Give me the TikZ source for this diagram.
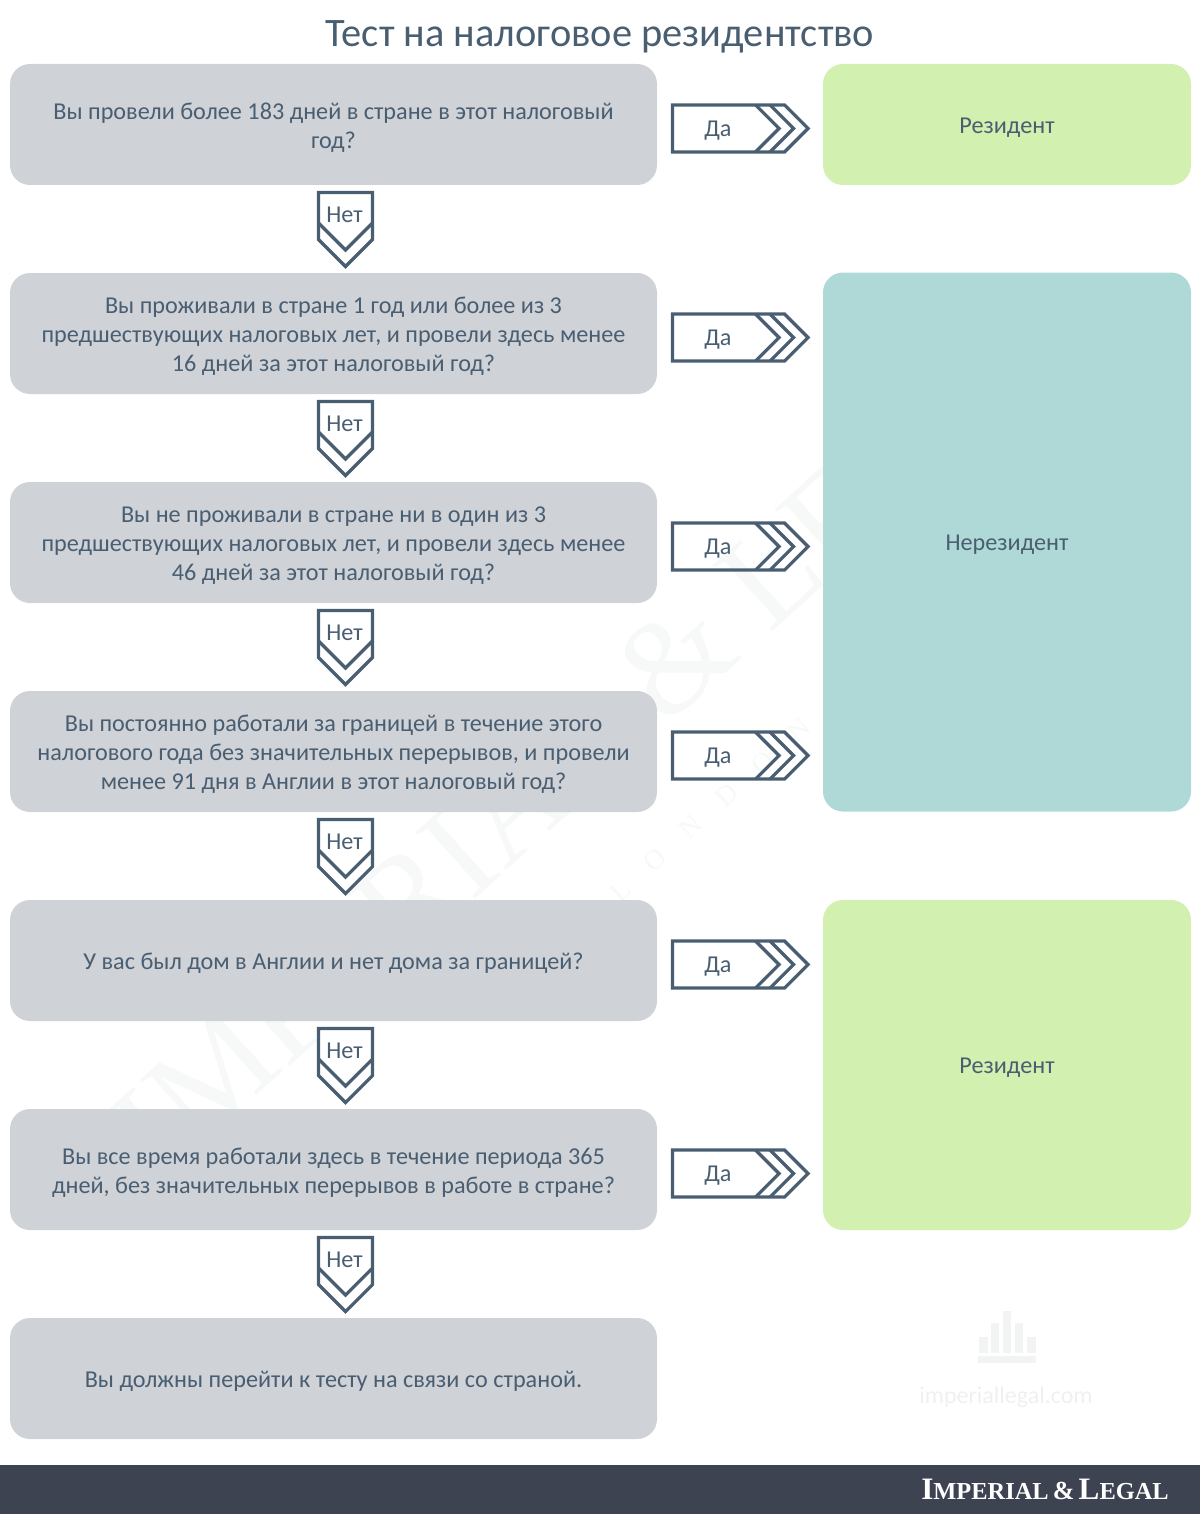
\documentclass[tikz,border=0pt]{standalone}
\usepackage{fontspec}
\setmainfont{Carlito}
\newfontfamily\logofont{Liberation Serif}
\usetikzlibrary{positioning}
\definecolor{inkblue}{HTML}{4A5E72}
\definecolor{boxgrey}{HTML}{CFD2D7}
\definecolor{resgreen}{HTML}{D2F0AF}
\definecolor{nonresteal}{HTML}{AFD9D7}
\definecolor{footdark}{HTML}{3E4352}
\definecolor{markgrey}{HTML}{F7F8F8}
\tikzset{
	question/.style={fill=boxgrey,rounded corners=10pt,minimum width=323.5pt,minimum height=60.5pt,
		text width=320pt,align=flush center,inner sep=0pt,outer sep=0pt,text=inkblue,
		font=\fontsize{12.1}{14.5}\selectfont,execute at begin node={\rule{0pt}{11pt}}},
	result/.style={fill=#1,rounded corners=10pt,minimum width=184pt,inner sep=0pt,outer sep=0pt,
		text=inkblue,font=\fontsize{12.1}{14.5}\selectfont,text height=8.8pt,text depth=0pt},
	answer/.style={inner sep=0pt,text=inkblue,font=\fontsize{12.1}{14.5}\selectfont},
	arrowline/.style={draw=inkblue,line width=1.6pt,line join=miter}
}
\begin{document}
\begin{tikzpicture}[x=0.5pt,y=-0.5pt]
	\useasboundingbox (0,0) rectangle (1200,1514);
	% faint marks behind the boxes
	\node[rotate=42,text=markgrey,font=\logofont\fontsize{68}{68}\selectfont] (markname) at (602,725) {IMPERIAL \& LEGAL};
	\node[rotate=42,text=markgrey,font=\logofont\fontsize{14}{14}\selectfont] (markcity) at (710,810) {L\quad O\quad N\quad D\quad O\quad N};
	\foreach \x/\t/\w in {983/1337/9,995/1323/8,1007/1311/8,1019/1323/8,1031/1337/9}
		\fill[markgrey!98!black] (\x-\w/2,\t) rectangle (\x+\w/2,1353);
	\fill[markgrey!98!black] (978,1356) rectangle (1036,1363);
	\node[text=markgrey!97!black,font=\fontsize{12}{14}\selectfont] (markweb) at (1006,1397) {imperiallegal.com};
	% title
	\node[text=inkblue,font=\fontsize{20.2}{24}\selectfont] (title) at (600,37) {Тест на налоговое резидентство};
	% questions
	\node[question,anchor=north west] (q1) at (10,64) {Вы провели более 183 дней в стране в этот налоговый\\год?};
	\node[question,below=44pt of q1] (q2) {Вы проживали в стране 1 год или более из 3\\предшествующих налоговых лет, и провели здесь менее\\16 дней за этот налоговый год?};
	\node[question,below=44pt of q2] (q3) {Вы не проживали в стране ни в один из 3\\предшествующих налоговых лет, и провели здесь менее\\46 дней за этот налоговый год?};
	\node[question,below=44pt of q3] (q4) {Вы постоянно работали за границей в течение этого\\налогового года без значительных перерывов, и провели\\менее 91 дня в Англии в этот налоговый год?};
	\node[question,below=44pt of q4] (q5) {У вас был дом в Англии и нет дома за границей?};
	\node[question,below=44pt of q5] (q6) {Вы все время работали здесь в течение периода 365\\дней, без значительных перерывов в работе в стране?};
	\node[question,below=44pt of q6] (q7) {Вы должны перейти к тесту на связи со страной.};
	% results
	\node[result=resgreen,minimum height=60.5pt] (res1) at (1007,124.5) {Резидент};
	\node[result=nonresteal,minimum height=269.5pt] (nonres) at (1007,542) {Нерезидент};
	\node[result=resgreen,minimum height=165pt] (res2) at (1007,1065) {Резидент};
	% arrows between the rows
	\foreach \n in {1,...,6}{
		\coordinate[right=7.75pt of q\n.east,yshift=-2pt] (yes\n);
		\draw[arrowline,shift={(yes\n)}] (0,-23.5) -- ++(112,0) -- ++(23.5,23.5) -- ++(-23.5,23.5) -- ++(-112,0) -- cycle;
		\draw[arrowline,shift={(yes\n)}] (83,-23.5) -- ++(23.5,23.5) -- ++(-23.5,23.5);
		\draw[arrowline,shift={(yes\n)}] (97.5,-23.5) -- ++(23.5,23.5) -- ++(-23.5,23.5);
		\node[answer,right=15.75pt of yes\n,yshift=-1pt] (yeslabel\n) {Да};
		\coordinate[below=3.5pt of q\n.south,xshift=6pt] (no\n);
		\draw[arrowline,shift={(no\n)}] (-27,.5) -- ++(54,0) -- ++(0,47) -- ++(-27,27) -- ++(-27,-27) -- cycle;
		\draw[arrowline,shift={(no\n)}] (-27,31) -- ++(27,27) -- ++(27,-27);
		\node[answer,below=7.5pt of no\n,xshift=-.5pt] (nolabel\n) {Нет};
	}
	% footer
	\fill[footdark] (0,1465) rectangle (1200,1514);
	\node[text=white,font=\logofont\bfseries] (brand) at (1045,1489) {\fontsize{15.6}{16}\selectfont I\fontsize{12.2}{16}\selectfont MPERIAL\,\fontsize{13}{16}\selectfont \&\,\fontsize{15.6}{16}\selectfont L\fontsize{12.2}{16}\selectfont EGAL};
\end{tikzpicture}
\end{document}
